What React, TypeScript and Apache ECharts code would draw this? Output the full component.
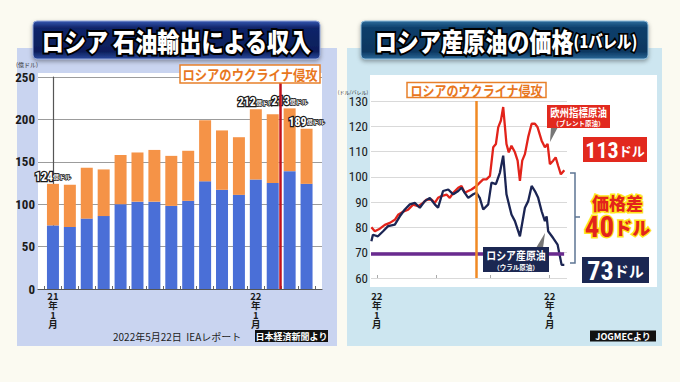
import React, { useEffect, useRef } from "react";
import * as echarts from "echarts";

// ---------- Left chart: Russian oil export revenue (億ドル) ----------
const months = [
  "21年1月", "21年2月", "21年3月", "21年4月", "21年5月", "21年6月", "21年7月", "21年8月",
  "21年9月", "21年10月", "21年11月", "21年12月", "22年1月", "22年2月", "22年3月", "22年4月",
];
const crudeValues = [75, 73, 83, 86, 100, 103, 103, 98, 104, 127, 117, 111, 129, 125, 139, 124];
const productValues = [49, 50, 60, 55, 58, 58, 61, 59, 59, 72, 70, 68, 83, 81, 74, 65];
const totalLabels: [number, string][] = [[0, "124"], [12, "212"], [14, "213"], [15, "189"]];
const revenueLabelMonths = [0, 12];
const invasionMonthPos = 13.43;

// ---------- Right chart: crude price (ドル/バレル), x = days from 2022-01-01 ----------
const brentDays = [-2.8, -1, 1.6, 4.2, 6.8, 9.4, 11.1, 13.7, 16.3, 18.9, 21.5, 24.1, 25.9, 28.5, 30.2, 31.9, 33.7, 36.3, 38, 39.8, 42.4, 44.1, 45.8, 47.6, 49.3, 51.9, 53.6, 55.4, 57.1, 58.9, 60.6, 62, 63.2, 64.6, 65.8, 67.5, 68.7, 70.1, 71.9, 73.3, 74.5, 75.7, 77.1, 78.8, 80.6, 82.3, 83.7, 85.8, 87.5, 88.9, 90.1, 91.8, 93.1, 94.4, 95.8, 97.6];
const brentPrices = [80.1, 78.5, 79.5, 81, 81.8, 83, 85, 86.2, 87, 89, 88.4, 89.7, 91, 91, 89.7, 91.7, 92.4, 93, 91.7, 93.7, 95.7, 96.4, 93.7, 94.4, 95, 96.4, 97.7, 99, 99, 100.4, 111.7, 113, 119.6, 122.3, 127.6, 113, 109.7, 112.3, 109.7, 106.4, 98.4, 106.4, 109, 115.7, 121, 121, 119.6, 114.3, 111.7, 113, 105, 106.4, 107.7, 104.4, 101, 102.6];
const uralsDays = [-2.8, -2, 0.6, 3.3, 5.9, 9.4, 12, 14.6, 17.2, 19.8, 22.4, 25, 27.6, 30.2, 31.9, 34.5, 37.2, 39.8, 42.4, 44.1, 45.8, 47.6, 50.2, 51.9, 53.6, 55.4, 58, 59.7, 62, 64.1, 65.8, 67.5, 70.1, 71.9, 73.6, 74.5, 77.1, 78.8, 80.6, 82.3, 84, 85.8, 87.5, 88.4, 89.2, 91.8, 94.1, 96.2, 97.6];
const uralsPrices = [74.5, 77.1, 76.5, 78.5, 80.5, 81.1, 84.4, 87.1, 89.1, 89.7, 87.8, 90.4, 91.7, 89.1, 87.8, 94.4, 95, 93.1, 94.4, 95.7, 93.7, 91.7, 93.1, 93.7, 91.7, 87.1, 89.1, 97.7, 97.1, 101.7, 108.4, 93.1, 85.1, 82.5, 78.5, 76.5, 87.8, 90.4, 96.4, 94.4, 91.7, 86.4, 82.5, 84.4, 78.5, 75.8, 73.2, 65.2, 65.2];
const monthStartDays = [0, 31, 59, 90];
const priceLabelDays: Record<number, string> = { 0: "22年1月", 90: "22年4月" };
const invasionDay = 51.6;
const referenceLevel = 69.5;
const referenceEndDay = 97.5;

const JP = '"Noto Sans CJK JP", "Noto Sans", sans-serif';
const NUM = '"Liberation Sans Narrow", "Roboto Condensed", "DejaVu Sans Condensed", Roboto, sans-serif';

const verticalize = (s: string) => s.replace(/(\d+)年(\d+)月/, "$1\n年\n$2\n月");

function txt(x: number, y: number, text: string, style: any, extra: any = {}) {
  return {
    type: "text",
    x,
    y,
    z: 100,
    ...extra,
    style: {
      text,
      align: "center",
      verticalAlign: "middle",
      textAlign: "center",
      textVerticalAlign: "middle",
      fontFamily: JP,
      ...style,
    },
  };
}

export default function App() {
  const ref = useRef<HTMLDivElement>(null);
  useEffect(() => {
    if (!ref.current) return;
    const chart = echarts.init(ref.current, null, { renderer: "svg", width: 680, height: 382 });

    const productData = productValues.map((v, i) => {
      const lab = totalLabels.find((t) => t[0] === i);
      return lab
        ? { value: v, label: { show: true, formatter: `{n|${lab[1]}}{u|億ドル}` } }
        : { value: v };
    });

    const labelBorder = { textBorderColor: "#1a1a1a", textBorderWidth: 2.5, color: "#fff", fontWeight: "bold" };

    const navyGrad = {
      type: "linear", x: 0, y: 0, x2: 0, y2: 1,
      colorStops: [
        { offset: 0, color: "#3657b0" },
        { offset: 0.18, color: "#10256a" },
        { offset: 0.8, color: "#0c1e5a" },
        { offset: 1, color: "#2a4a9e" },
      ],
    };
    const tealGrad = {
      type: "linear", x: 0, y: 0, x2: 0, y2: 1,
      colorStops: [
        { offset: 0, color: "#2d6c9c" },
        { offset: 0.18, color: "#0f3f6b" },
        { offset: 0.8, color: "#0c3760" },
        { offset: 1, color: "#2a6898" },
      ],
    };

    const titleStyle = { fill: "#fff", stroke: "#000", lineWidth: 4, fontWeight: 900, fontFamily: JP };
    const dateLabel = {
      fontFamily: JP,
      fontWeight: "bold",
      fontSize: 9.5,
      lineHeight: 9.5,
      color: "#1a1a1a",
    };

    const option: any = {
      animation: false,
      backgroundColor: "#fbfaf1",
      grid: [
        // 0: bars (category bands)
        { left: 44.5, right: 365, top: 77, bottom: 93 },
        // 1: price lines
        { left: 371, right: 113, top: 101, bottom: 104 },
        // 2: frame of revenue chart (gridlines, y labels, axis lines)
        { left: 38, right: 358, top: 77, bottom: 93 },
      ],
      xAxis: [
        {
          type: "category",
          gridIndex: 0,
          data: months,
          axisLine: { show: false },
          axisTick: {
            show: true,
            inside: true,
            length: 3,
            interval: 0,
            alignWithLabel: false,
            lineStyle: { color: "#666" },
          },
          axisLabel: {
            interval: (i: number) => revenueLabelMonths.includes(i),
            formatter: (v: string) => verticalize(v),
            ...dateLabel,
            margin: 2,
          },
        },
        {
          type: "value",
          gridIndex: 1,
          min: -3,
          max: 99,
          splitLine: { show: false },
          axisLine: { show: false },
          axisTick: {
            show: true,
            inside: true,
            length: 3,
            customValues: monthStartDays,
            lineStyle: { color: "#aaa" },
          },
          axisLabel: {
            customValues: Object.keys(priceLabelDays).map(Number),
            formatter: (v: number) => verticalize(priceLabelDays[Math.round(v)] || ""),
            ...dateLabel,
            margin: 13,
          },
        },
        {
          type: "value",
          gridIndex: 2,
          min: -0.89,
          max: 15.92,
          splitLine: { show: false },
          axisLine: { show: true, lineStyle: { color: "#555", width: 1.2 } },
          axisTick: { show: false },
          axisLabel: { show: false },
        },
      ],
      yAxis: [
        {
          type: "value",
          gridIndex: 0,
          min: 0,
          max: 250,
          interval: 50,
          show: false,
        },
        {
          type: "value",
          gridIndex: 1,
          min: 60,
          max: 130,
          interval: 10,
          axisLine: { show: false },
          axisTick: { show: false },
          splitLine: { lineStyle: { color: "#d9d9d9", width: 1 } },
          axisLabel: { fontFamily: NUM, fontSize: 13, color: "#1a1a1a", margin: 3 },
        },
        {
          type: "value",
          gridIndex: 2,
          min: 0,
          max: 250,
          interval: 50,
          axisLine: { show: true, lineStyle: { color: "#555", width: 1.2 } },
          axisTick: { show: false },
          splitLine: { lineStyle: { color: "#9c9c9c", width: 1 } },
          axisLabel: { fontFamily: NUM, fontWeight: "bold", fontSize: 13, color: "#1a1a1a", margin: 3 },
        },
      ],
      series: [
        {
          type: "line",
          name: "侵攻",
          xAxisIndex: 2,
          yAxisIndex: 2,
          data: [],
          z: 1,
          markLine: {
            silent: true,
            symbol: ["none", "none"],
            label: { show: false },
            lineStyle: { color: "#c0121c", width: 2.5, type: "solid" },
            data: [{ xAxis: invasionMonthPos }],
          },
        },
        {
          type: "bar",
          name: "原油",
          xAxisIndex: 0,
          yAxisIndex: 0,
          stack: "rev",
          barWidth: 12,
          z: 3,
          itemStyle: { color: "#4a6fd7" },
          data: crudeValues,
        },
        {
          type: "bar",
          name: "石油製品",
          xAxisIndex: 0,
          yAxisIndex: 0,
          stack: "rev",
          barWidth: 12,
          z: 3,
          itemStyle: { color: "#f59347" },
          label: {
            show: false,
            position: "top",
            distance: 1,
            rich: {
              n: { fontFamily: NUM, fontSize: 12, ...labelBorder },
              u: { fontFamily: JP, fontSize: 6, ...labelBorder, textBorderWidth: 1.5 },
            },
          },
          data: productData,
        },
        {
          type: "line",
          name: "ブレント",
          xAxisIndex: 1,
          yAxisIndex: 1,
          showSymbol: false,
          z: 4,
          lineStyle: { color: "#e2231a", width: 2.3 },
          data: brentDays.map((d, i) => [d, brentPrices[i]]),
        },
        {
          type: "line",
          name: "ウラル",
          xAxisIndex: 1,
          yAxisIndex: 1,
          showSymbol: false,
          z: 4,
          lineStyle: { color: "#1b2553", width: 2.3 },
          data: uralsDays.map((d, i) => [d, uralsPrices[i]]),
          markLine: {
            silent: true,
            symbol: ["none", "none"],
            label: { show: false },
            data: [
              [
                { coord: [-3, referenceLevel], lineStyle: { color: "#6a2b90", width: 3.5, type: "solid" } },
                { coord: [referenceEndDay, referenceLevel] },
              ],
              { xAxis: invasionDay, lineStyle: { color: "#f08a24", width: 2.5, type: "solid" } },
            ],
          },
        },
      ],
      graphic: [
        // panels
        { type: "rect", z: -10, shape: { x: 17, y: 48, width: 320, height: 298 }, style: { fill: "#c9d4f0" } },
        { type: "rect", z: -10, shape: { x: 347, y: 48, width: 315, height: 298 }, style: { fill: "#cde6f0" } },
        { type: "rect", z: -9, shape: { x: 38, y: 73, width: 284, height: 216 }, style: { fill: "#fff" } },
        { type: "rect", z: -9, shape: { x: 370, y: 75, width: 287, height: 212 }, style: { fill: "#fff" } },
        // titles
        {
          type: "rect", z: 90, shape: { x: 33, y: 21, width: 287, height: 38, r: 4 },
          style: { fill: navyGrad, stroke: "#8ea2d6", lineWidth: 1, shadowBlur: 4, shadowColor: "rgba(0,0,0,0.35)", shadowOffsetY: 2 },
        },
        txt(176.5, 40.5, "ロシア 石油輸出による収入", { ...titleStyle, fontSize: 26 }, { scaleX: 0.85 }),
        {
          type: "rect", z: 90, shape: { x: 361, y: 21, width: 287, height: 38, r: 4 },
          style: { fill: tealGrad, stroke: "#8cbad8", lineWidth: 1, shadowBlur: 4, shadowColor: "rgba(0,0,0,0.35)", shadowOffsetY: 2 },
        },
        txt(506, 40.5, "{a|ロシア産原油の価格}{b|(1バレル)}", {
          ...titleStyle,
          rich: {
            a: { fontSize: 26, fontWeight: 900, fontFamily: JP, fill: "#fff", stroke: "#000", lineWidth: 4 },
            b: { fontSize: 17, fontWeight: 900, fontFamily: JP, fill: "#fff", stroke: "#000", lineWidth: 3.5 },
          },
        }, { scaleX: 0.85 }),
        // invasion labels
        { type: "rect", z: 95, shape: { x: 180, y: 65, width: 140, height: 18 }, style: { fill: "#fff", stroke: "#e8802a", lineWidth: 1.5 } },
        txt(250, 74.5, "ロシアのウクライナ侵攻", { fontSize: 14, fontWeight: "bold", fill: "#e8771e" }, { scaleX: 0.88 }),
        { type: "rect", z: 95, shape: { x: 407, y: 82.5, width: 139, height: 15 }, style: { fill: "#fff", stroke: "#e8802a", lineWidth: 1.5 } },
        txt(476.5, 90.5, "ロシアのウクライナ侵攻", { fontSize: 14, fontWeight: "bold", fill: "#e8771e" }, { scaleX: 0.86 }),
        // units
        txt(27, 64, "(億ドル)", { fontSize: 6, fill: "#333" }),
        txt(353, 91, "(ドル/バレル)", { fontSize: 5, fill: "#333" }),
        // footers
        txt(113, 336, "2022年5月22日  IEAレポート", { fontSize: 10, fill: "#222", align: "left", textAlign: "left" }),
        { type: "rect", z: 95, shape: { x: 255, y: 330, width: 73, height: 12 }, style: { fill: "#111" } },
        txt(291.5, 336, "日本経済新聞より", { fontSize: 9, fontWeight: "bold", fill: "#fff" }),
        { type: "rect", z: 95, shape: { x: 590, y: 330.5, width: 66, height: 11 }, style: { fill: "#111" } },
        txt(623, 336, "JOGMECより", { fontSize: 9, fontWeight: "bold", fill: "#fff" }),
        // brent callout
        { type: "polygon", z: 95, shape: { points: [[551, 127], [558, 127], [550, 142]] }, style: { fill: "#777" } },
        { type: "rect", z: 96, shape: { x: 547, y: 105, width: 63, height: 23 }, style: { fill: "#e2291e" } },
        txt(578.5, 112, "欧州指標原油", { fontSize: 11, fontWeight: "bold", fill: "#fff" }, { scaleX: 0.86 }),
        txt(578.5, 122.5, "（ブレント原油）", { fontSize: 6.5, fontWeight: "bold", fill: "#fff" }),
        // urals callout
        { type: "polygon", z: 95, shape: { points: [[536, 248], [543, 248], [545, 233]] }, style: { fill: "#777" } },
        { type: "rect", z: 96, shape: { x: 483, y: 247, width: 66, height: 25 }, style: { fill: "#1b2752" } },
        txt(516, 255.5, "ロシア産原油", { fontSize: 11.5, fontWeight: "bold", fill: "#fff" }, { scaleX: 0.86 }),
        txt(516, 266.5, "（ウラル原油）", { fontSize: 6.5, fontWeight: "bold", fill: "#fff" }),
        // price boxes
        { type: "rect", z: 96, shape: { x: 583, y: 137, width: 64, height: 25 }, style: { fill: "#e2291e" } },
        txt(615, 150, "{n|113}{u|ドル}", {
          rich: {
            n: { fontSize: 22, fontWeight: "bold", fontFamily: NUM, fill: "#fff" },
            u: { fontSize: 13, fontWeight: "bold", fontFamily: JP, fill: "#fff" },
          },
        }),
        { type: "rect", z: 96, shape: { x: 582, y: 257, width: 67, height: 26 }, style: { fill: "#1b2752" } },
        txt(615.5, 270.5, "{n|73}{u|ドル}", {
          rich: {
            n: { fontSize: 26, fontWeight: "bold", fontFamily: NUM, fill: "#fff" },
            u: { fontSize: 15, fontWeight: "bold", fontFamily: JP, fill: "#fff" },
          },
        }),
        // bracket
        {
          type: "polyline", z: 95,
          shape: { points: [[570, 173], [575, 173], [575, 217], [580, 217], [575, 217], [575, 263], [570, 263]] },
          style: { stroke: "#5d7594", lineWidth: 1.5, fill: null },
        },
        // price gap
        txt(617.5, 202.5, "価格差", {
          fontSize: 17, fontWeight: 900, fill: "#e3241b", stroke: "#ffe51a", lineWidth: 3,
          shadowColor: "#ffd000", shadowBlur: 6,
        }),
        txt(617.5, 226.5, "{n|40}{u|ドル}", {
          rich: {
            n: { fontSize: 29, fontWeight: "bold", fontFamily: NUM, fill: "#e3241b", stroke: "#ffe51a", lineWidth: 3 },
            u: { fontSize: 18, fontWeight: 900, fontFamily: JP, fill: "#e3241b", stroke: "#ffe51a", lineWidth: 3 },
          },
          shadowColor: "#ffd000", shadowBlur: 6,
        }),
      ],
    };

    chart.setOption(option);
    return () => chart.dispose();
  }, []);

  return (
    <div
      ref={ref}
      style={{ position: "absolute", left: 0, top: 0, width: 680, height: 382, background: "#fbfaf1" }}
    />
  );
}
